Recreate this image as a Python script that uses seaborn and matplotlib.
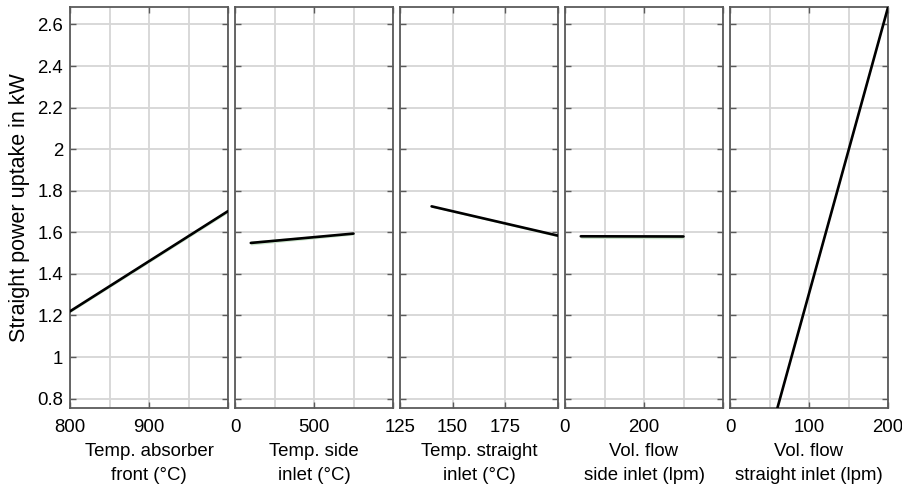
import matplotlib
matplotlib.use("Agg")
import matplotlib.pyplot as plt
import seaborn as sns
import pandas as pd
from matplotlib.ticker import FixedLocator

sns.set_style("white")
plt.rcParams['font.family'] = ['Liberation Sans', 'DejaVu Sans']
plt.rcParams['text.color'] = 'black'
plt.rcParams['axes.labelcolor'] = 'black'
plt.rcParams['xtick.labelcolor'] = 'black'
plt.rcParams['ytick.labelcolor'] = 'black'

# ---- data ----
y_label = "Straight power uptake in kW"
x_labels = ["Temp. absorber\nfront (°C)", "Temp. side\ninlet (°C)", "Temp. straight\ninlet (°C)",
            "Vol. flow\nside inlet (lpm)", "Vol. flow\nstraight inlet (lpm)"]

x_absorber = [800, 1000]
y_absorber = [1.220, 1.702]
lo_absorber = [1.214, 1.694]
hi_absorber = [1.226, 1.710]

x_side_temp = [100, 750]
y_side_temp = [1.549, 1.594]
lo_side_temp = [1.539, 1.587]
hi_side_temp = [1.558, 1.600]

x_straight_temp = [140, 200]
y_straight_temp = [1.725, 1.584]
lo_straight_temp = [1.721, 1.578]
hi_straight_temp = [1.729, 1.590]

x_side_flow = [40, 300]
y_side_flow = [1.581, 1.580]
lo_side_flow = [1.571, 1.569]
hi_side_flow = [1.588, 1.589]

x_straight_flow = [60, 200]
y_straight_flow = [0.755, 2.682]
lo_straight_flow = [0.752, 2.679]
hi_straight_flow = [0.758, 2.685]

xlims = [(800, 1000), (0, 1000), (125, 200), (0, 400), (0, 200)]
major_ticks = [[800, 900, 1000], [0, 500, 1000], [125, 150, 175, 200], [0, 200, 400], [0, 100, 200]]
major_labels = [["800", "900", ""], ["0", "500", ""], ["125", "150", "175", ""], ["0", "200", ""], ["0", "100", "200"]]
minor_ticks = [[850, 950], [250, 750], [], [100, 300], [50, 150]]
y_ticks = [0.8, 1.0, 1.2, 1.4, 1.6, 1.8, 2.0, 2.2, 2.4, 2.6]
y_tick_labels = ["0.8", "1", "1.2", "1.4", "1.6", "1.8", "2", "2.2", "2.4", "2.6"]
ylim = (0.755, 2.684)

series = [
    (x_absorber, y_absorber, lo_absorber, hi_absorber),
    (x_side_temp, y_side_temp, lo_side_temp, hi_side_temp),
    (x_straight_temp, y_straight_temp, lo_straight_temp, hi_straight_temp),
    (x_side_flow, y_side_flow, lo_side_flow, hi_side_flow),
    (x_straight_flow, y_straight_flow, lo_straight_flow, hi_straight_flow),
]

W, H = 902, 488
fig = plt.figure(figsize=(W / 100, H / 100), dpi=100)
lefts = [70, 235, 400, 565, 730]
pw = 158
top_px, bot_px = 7, 408

spine_col = "#5a5a5a"
grid_col = "#d6d6d6"
fs = 13.4

for i in range(5):
    ax = fig.add_axes([lefts[i] / W, (H - bot_px) / H, pw / W, (bot_px - top_px) / H])
    xs, ys, lo, hi = series[i]
    df = pd.DataFrame({"x": xs, "y": ys})
    ax.fill_between(xs, lo, hi, color="#cde6cd", lw=0, zorder=2)
    sns.lineplot(data=df, x="x", y="y", ax=ax, color="black", lw=1.9, zorder=3)
    ax.set_xlim(*xlims[i])
    ax.set_ylim(*ylim)
    ax.xaxis.set_major_locator(FixedLocator(major_ticks[i]))
    ax.set_xticklabels(major_labels[i])
    ax.xaxis.set_minor_locator(FixedLocator(minor_ticks[i]))
    ax.set_yticks(y_ticks)
    if i == 0:
        ax.set_yticklabels(y_tick_labels)
        ax.set_ylabel(y_label, fontsize=15.5, labelpad=5)
    else:
        ax.set_yticklabels([])
        ax.set_ylabel("")
    ax.set_xlabel(x_labels[i], fontsize=fs, linespacing=1.5, labelpad=5)
    ax.grid(True, which="both", color=grid_col, lw=1.3, zorder=0)
    ax.set_axisbelow(True)
    ax.tick_params(which="major", direction="in", length=4, width=1.0, color=spine_col,
                   top=True, right=True, bottom=True, left=True, labelsize=fs)
    ax.tick_params(axis="x", which="major", pad=8)
    ax.tick_params(axis="y", which="major", pad=5)
    ax.tick_params(which="minor", length=0)
    for s in ax.spines.values():
        s.set_color(spine_col)
        s.set_linewidth(1.3)
        s.set_visible(True)
    leg = ax.get_legend()
    if leg:
        leg.remove()

fig.savefig("out.png", dpi=100)
